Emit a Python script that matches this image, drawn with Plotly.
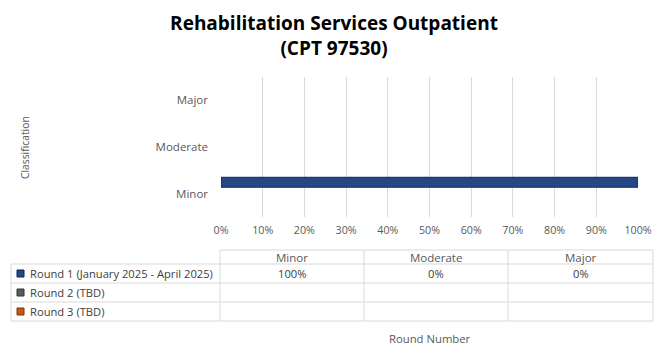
import plotly.graph_objects as go

# page body adds an 8px margin; size the figure to fit the 670x364 window
OFF = 8
W, H = 670 - OFF, 364 - OFF

categories = ["Minor", "Moderate", "Major"]
series_names = ["Round 1 (January 2025 - April 2025)", "Round 2 (TBD)", "Round 3 (TBD)"]
series_values = [
    [100, 0, 0],
    [None, None, None],
    [None, None, None],
]
series_colors = ["#264785", "#5A5A5A", "#C55A11"]
series_edges = ["#13254D", "#333333", "#7A3608"]
x_ticks = [0, 10, 20, 30, 40, 50, 60, 70, 80, 90, 100]

FONT = "Open Sans"
TXT = "#595959"
GRID = "#D9D9D9"

def px(x):
    return (x - OFF) / W

def py(y):
    return 1 - (y - OFF) / H

# plot area in window pixels
PL, PR, PT, PB = 221, 638, 77, 217

fig = go.Figure()
bar_w = 0.213
offsets = [0.138, 0.138 - bar_w, 0.138 - 2 * bar_w]
for name, vals, col, edge, off in zip(series_names, series_values, series_colors, series_edges, offsets):
    lw = [1 if (v or 0) > 0 else 0 for v in vals]
    fig.add_trace(go.Bar(
        y=categories, x=vals, orientation="h", name=name,
        marker=dict(color=col, line=dict(color=edge, width=lw)),
        width=bar_w, offset=off, showlegend=False, hoverinfo="x+y",
    ))

shapes = []
annotations = []

col_x = [11, 220, 364, 508, 653]
row_y = [250, 264, 283, 302, 321]
line = dict(color=GRID, width=1)
shapes.append(dict(type="line", xref="paper", yref="paper", x0=px(col_x[1]), x1=px(col_x[-1]),
                   y0=py(row_y[0]), y1=py(row_y[0]), line=line))
for yy in row_y[1:]:
    shapes.append(dict(type="line", xref="paper", yref="paper", x0=px(col_x[0]), x1=px(col_x[-1]),
                       y0=py(yy), y1=py(yy), line=line))
shapes.append(dict(type="line", xref="paper", yref="paper", x0=px(col_x[0]), x1=px(col_x[0]),
                   y0=py(row_y[1]), y1=py(row_y[-1]), line=line))
for xx in col_x[1:]:
    shapes.append(dict(type="line", xref="paper", yref="paper", x0=px(xx), x1=px(xx),
                       y0=py(row_y[0]), y1=py(row_y[-1]), line=line))

for i, c in enumerate(categories):
    cx = (col_x[i + 1] + col_x[i + 2]) / 2
    annotations.append(dict(x=px(cx), y=py((row_y[0] + row_y[1]) / 2), xref="paper", yref="paper",
                            text=c, showarrow=False, font=dict(family=FONT, size=11.5, color=TXT),
                            xanchor="center", yanchor="middle"))

for r, (name, vals, col, edge) in enumerate(zip(series_names, series_values, series_colors, series_edges)):
    cy = (row_y[r + 1] + row_y[r + 2]) / 2
    shapes.append(dict(type="rect", xref="paper", yref="paper",
                       x0=px(17), x1=px(24), y0=py(cy - 3.5), y1=py(cy + 3.5),
                       fillcolor=col, line=dict(color=edge, width=1)))
    annotations.append(dict(x=px(28), y=py(cy), xref="paper", yref="paper", text=name,
                            showarrow=False, font=dict(family=FONT, size=11.2, color="#404040"),
                            xanchor="left", yanchor="middle"))
    for i, v in enumerate(vals):
        if v is None:
            continue
        cx = (col_x[i + 1] + col_x[i + 2]) / 2
        annotations.append(dict(x=px(cx), y=py(cy), xref="paper", yref="paper", text=f"{v}%",
                                showarrow=False, font=dict(family=FONT, size=11.2, color="#404040"),
                                xanchor="center", yanchor="middle"))

annotations.append(dict(x=px(430), y=py(338), xref="paper", yref="paper", text="Round Number",
                        showarrow=False, font=dict(family=FONT, size=11.3, color=TXT),
                        xanchor="center", yanchor="middle"))
annotations.append(dict(x=px(25), y=py(148), xref="paper", yref="paper", text="Classification",
                        showarrow=False, textangle=-90, font=dict(family=FONT, size=10.3, color=TXT),
                        xanchor="center", yanchor="middle"))

fig.update_layout(
    width=W, height=H, autosize=False,
    margin=dict(l=0, r=0, t=0, b=0, pad=0),
    paper_bgcolor="white", plot_bgcolor="white",
    barmode="overlay",
    title=dict(text="<b>Rehabilitation Services Outpatient<br>(CPT 97530)</b>",
               x=px(334), xanchor="center", y=py(30), yanchor="middle",
               font=dict(family=FONT, size=19, color="#000000")),
    xaxis=dict(domain=[px(PL), px(PR)], range=[0, 100], tickvals=x_ticks, automargin=False,
               ticktext=[f"{t}%" for t in x_ticks], showgrid=True, gridcolor=GRID, gridwidth=1,
               zeroline=False, showline=False, ticks="", ticklabelstandoff=5,
               tickfont=dict(family=FONT, size=10.7, color=TXT), fixedrange=True),
    yaxis=dict(domain=[py(PB), py(PT)], range=[-0.5, 2.5], categoryorder="array", automargin=False,
               categoryarray=categories, showgrid=False, zeroline=False, showline=False, ticks="",
               ticklabelstandoff=12,
               tickfont=dict(family=FONT, size=11.5, color=TXT), fixedrange=True),
    shapes=shapes, annotations=annotations,
)

fig.write_html("out.html")
